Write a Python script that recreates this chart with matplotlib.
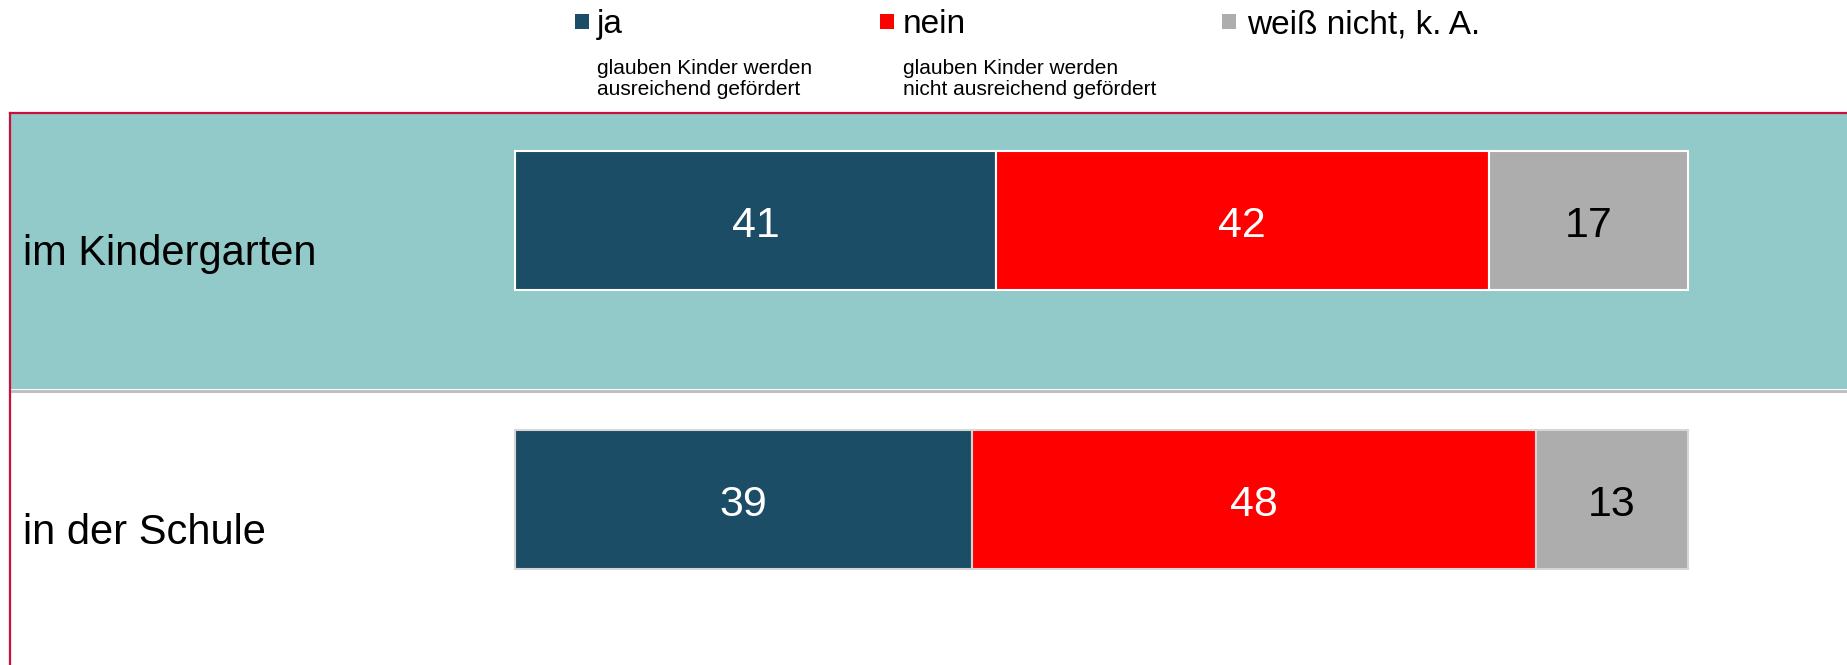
import matplotlib.pyplot as plt
from matplotlib.patches import Rectangle
from matplotlib.lines import Line2D

plt.rcParams['font.family'] = ['Liberation Sans', 'DejaVu Sans']

# data
categories = ['im Kindergarten', 'in der Schule']
ja = [41, 39]
nein = [42, 48]
weiss = [17, 13]

series_names = ['ja', 'nein', 'weiß nicht, k. A.']
series_notes = [['glauben Kinder werden', 'ausreichend gefördert'],
                ['glauben Kinder werden', 'nicht ausreichend gefördert'],
                []]
colors = ['#1b4d66', '#ff0000', '#adadad']
value_colors = ['white', 'white', 'black']
row_edges = ['white', '#d6d6d6']

W, H = 1847, 665
PX = 11.73       # pixels per percent
X0 = 515         # pixel where 0 % sits
ROW0, ROWSTEP = 220.5, 279.0


def fx(px):
    return px / W


def fy(py):
    return 1 - py / H


fig = plt.figure(figsize=(W / 100, H / 100), dpi=100)
ax = fig.add_axes([0, 0, 1, 1])
ax.set_xlim(-X0 / PX, (W - X0) / PX)
ax.set_ylim((H - ROW0) / ROWSTEP, -ROW0 / ROWSTEP)
ax.axis('off')

# teal band behind the first row + frame lines
fig.add_artist(Rectangle((fx(10), fy(389)), 1 - fx(10), (389 - 114) / H,
                         transform=fig.transFigure, facecolor='#92c9c9',
                         edgecolor='none', zorder=-2))
fig.add_artist(Line2D([fx(10), 1], [fy(390.5), fy(390.5)], transform=fig.transFigure,
                      color='#c0c0c0', lw=2.2, zorder=-1))
fig.add_artist(Line2D([fx(10), 1], [fy(113), fy(113)], transform=fig.transFigure,
                      color='#c8103c', lw=1.6, zorder=-1))
fig.add_artist(Line2D([fx(10), fx(10)], [fy(112.5), 0], transform=fig.transFigure,
                      color='#c8103c', lw=1.6, zorder=-1))

series = [ja, nein, weiss]
rows = list(range(len(categories)))
left = [0] * len(categories)
for k, vals in enumerate(series):
    ax.barh(rows, vals, left=left, height=0.498, color=colors[k],
            edgecolor=row_edges, linewidth=1.5)
    for i, v in enumerate(vals):
        ax.text(left[i] + v / 2, i + 0.059, str(v), ha='center', va='baseline',
                fontsize=31, color=value_colors[k])
    left = [l + v for l, v in zip(left, vals)]

for i, name in enumerate(categories):
    ax.text((23 - X0) / PX, i + 0.16, name, ha='left', va='baseline',
            fontsize=30, color='black')

# legend across the top
marker_x = [575, 880, 1222]
text_x = [597, 903, 1247]
for k, name in enumerate(series_names):
    fig.add_artist(Rectangle((fx(marker_x[k]), fy(29)), 14 / W, 15 / H,
                             transform=fig.transFigure, facecolor=colors[k],
                             edgecolor='none'))
    fig.text(fx(text_x[k]), fy(33), name, fontsize=24, ha='left', va='baseline')
    for j, line in enumerate(series_notes[k]):
        fig.text(fx(text_x[k]), fy(74 + 21 * j), line, fontsize=15,
                 ha='left', va='baseline')

fig.savefig('out.png', dpi=100)
